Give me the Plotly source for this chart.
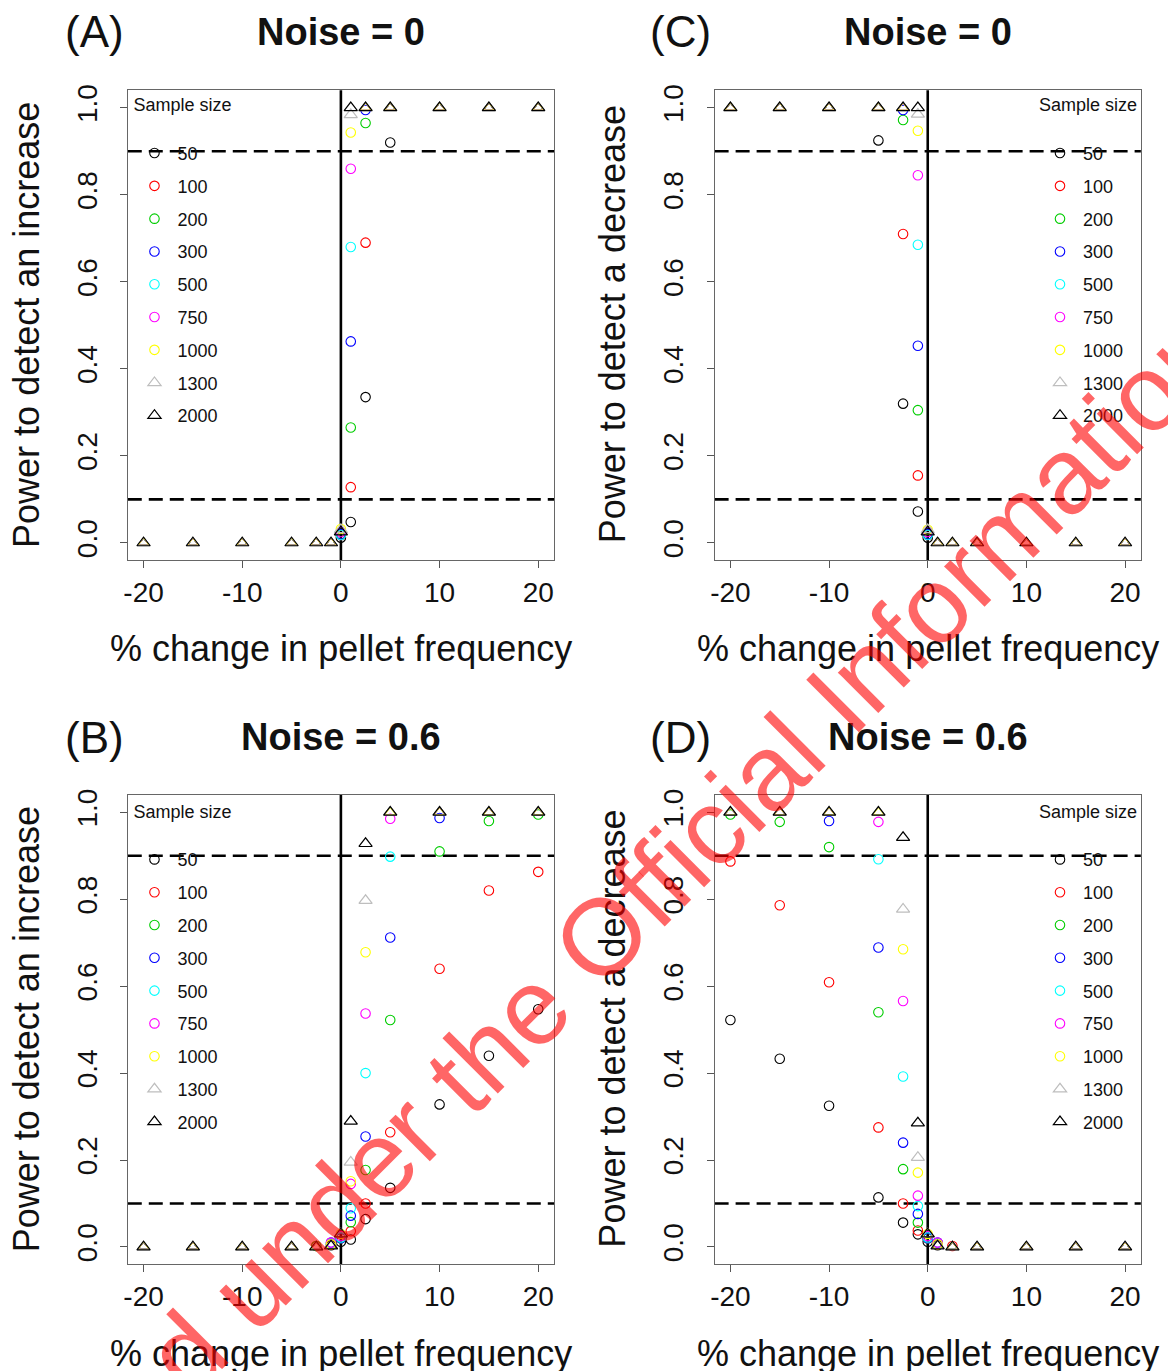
import plotly.graph_objects as go

# ---------------- data ----------------
pct_change = [-20, -15, -10, -5, -2.5, -1, 0, 1, 2.5, 5, 10, 15, 20]
sample_sizes = ["50", "100", "200", "300", "500", "750", "1000", "1300", "2000"]
series_colors = ["#000000", "#FF0000", "#00CD00", "#0000FF", "#00FFFF",
                 "#FF00FF", "#FFFF00", "#BEBEBE", "#000000"]
series_shapes = ["circle"] * 7 + ["triangle"] * 2

# (A) Noise = 0, power to detect an increase
power_inc_noise0 = [
    [0, 0, 0, 0, 0, 0, 0.012, 0.048, 0.335, 0.92, 1, 1, 1],
    [0, 0, 0, 0, 0, 0, 0.018, 0.128, 0.69, 1, 1, 1, 1],
    [0, 0, 0, 0, 0, 0, 0.02, 0.265, 0.965, 1, 1, 1, 1],
    [0, 0, 0, 0, 0, 0, 0.02, 0.463, 0.995, 1, 1, 1, 1],
    [0, 0, 0, 0, 0, 0, 0.018, 0.68, 1, 1, 1, 1, 1],
    [0, 0, 0, 0, 0, 0, 0.025, 0.86, 1, 1, 1, 1, 1],
    [0, 0, 0, 0, 0, 0, 0.032, 0.943, 1, 1, 1, 1, 1],
    [0, 0, 0, 0, 0, 0, 0.03, 0.984, 1, 1, 1, 1, 1],
    [0, 0, 0, 0, 0, 0, 0.025, 1, 1, 1, 1, 1, 1],
]
# (C) Noise = 0, power to detect a decrease
power_dec_noise0 = [
    [1, 1, 1, 0.925, 0.32, 0.072, 0.012, 0, 0, 0, 0, 0, 0],
    [1, 1, 1, 1, 0.71, 0.155, 0.018, 0, 0, 0, 0, 0, 0],
    [1, 1, 1, 1, 0.972, 0.305, 0.02, 0, 0, 0, 0, 0, 0],
    [1, 1, 1, 1, 0.995, 0.453, 0.02, 0, 0, 0, 0, 0, 0],
    [1, 1, 1, 1, 1, 0.685, 0.018, 0, 0, 0, 0, 0, 0],
    [1, 1, 1, 1, 1, 0.845, 0.025, 0, 0, 0, 0, 0, 0],
    [1, 1, 1, 1, 1, 0.947, 0.03, 0, 0, 0, 0, 0, 0],
    [1, 1, 1, 1, 1, 0.985, 0.03, 0, 0, 0, 0, 0, 0],
    [1, 1, 1, 1, 1, 1, 0.025, 0, 0, 0, 0, 0, 0],
]
# (B) Noise = 0.6, power to detect an increase
power_inc_noise06 = [
    [0, 0, 0, 0, 0, 0.004, 0.012, 0.017, 0.064, 0.136, 0.328, 0.44, 0.547],
    [0, 0, 0, 0, 0.002, 0.005, 0.02, 0.036, 0.10, 0.264, 0.64, 0.82, 0.863],
    [0, 0, 0, 0, 0.002, 0.007, 0.02, 0.057, 0.177, 0.522, 0.91, 0.98, 0.995],
    [0, 0, 0, 0, 0, 0.01, 0.02, 0.072, 0.254, 0.712, 0.987, 1, 1],
    [0, 0, 0, 0, 0, 0.008, 0.022, 0.089, 0.40, 0.898, 1, 1, 1],
    [0, 0, 0, 0, 0, 0.01, 0.025, 0.145, 0.537, 0.985, 1, 1, 1],
    [0, 0, 0, 0, 0, 0.006, 0.03, 0.151, 0.678, 1, 1, 1, 1],
    [0, 0, 0, 0, 0, 0.003, 0.03, 0.195, 0.797, 1, 1, 1, 1],
    [0, 0, 0, 0, 0, 0.002, 0.03, 0.289, 0.928, 1, 1, 1, 1],
]
# (D) Noise = 0.6, power to detect a decrease
power_dec_noise06 = [
    [0.522, 0.433, 0.325, 0.114, 0.056, 0.029, 0.012, 0.004, 0, 0, 0, 0, 0],
    [0.887, 0.786, 0.609, 0.275, 0.10, 0.038, 0.02, 0.006, 0.002, 0, 0, 0, 0],
    [0.995, 0.978, 0.92, 0.54, 0.179, 0.056, 0.02, 0.008, 0, 0, 0, 0, 0],
    [1, 1, 0.98, 0.689, 0.24, 0.076, 0.02, 0.01, 0, 0, 0, 0, 0],
    [1, 1, 1, 0.892, 0.392, 0.094, 0.022, 0.008, 0, 0, 0, 0, 0],
    [1, 1, 1, 0.978, 0.566, 0.118, 0.025, 0.01, 0, 0, 0, 0, 0],
    [1, 1, 1, 1, 0.685, 0.171, 0.03, 0.006, 0, 0, 0, 0, 0],
    [1, 1, 1, 1, 0.777, 0.206, 0.03, 0.003, 0, 0, 0, 0, 0],
    [1, 1, 1, 1, 0.942, 0.285, 0.03, 0.002, 0, 0, 0, 0, 0],
]

x_ticks = [-20, -10, 0, 10, 20]
x_tick_text = ["-20", "-10", "0", "10", "20"]
y_ticks = [0, 0.2, 0.4, 0.6, 0.8, 1.0]
y_tick_text = ["0.0", "0.2", "0.4", "0.6", "0.8", "1.0"]
threshold_lines = [0.1, 0.9]

panels = [
    ("(A)", "Noise = 0", power_inc_noise0, "Power to detect an increase", "", "legend", "left"),
    ("(C)", "Noise = 0", power_dec_noise0, "Power to detect a decrease", "2", "legend2", "right"),
    ("(B)", "Noise = 0.6", power_inc_noise06, "Power to detect an increase", "3", "legend3", "left"),
    ("(D)", "Noise = 0.6", power_dec_noise06, "Power to detect a decrease", "4", "legend4", "right"),
]

W, H = 1168, 1371
FONT = "Liberation Sans, Arial, sans-serif"
TXT = "#111111"
# page-pixel -> figure-pixel compensation (observed offset/scale of the snapshot)
SX, CX = 0.996, 4.6
SY, CY = 0.9937, 7.1

def px_x(p):
    return ((p - CX) / SX) / W

def px_y(p):
    return 1 - ((p - CY) / SY) / H

x_domains = {"left": [px_x(128.3), px_x(554.3)], "right": [px_x(714.8), px_x(1140.8)]}
y_domains = {"top": [px_y(560.3), px_y(91.3)], "bottom": [px_y(1263), px_y(794.5)]}
panel_pos = [("left", "top"), ("right", "top"), ("left", "bottom"), ("right", "bottom")]

fig = go.Figure()
layout = dict(
    width=W, height=H, margin=dict(l=0, r=0, t=0, b=0),
    paper_bgcolor="white", plot_bgcolor="white",
    font=dict(family=FONT, color=TXT),
    showlegend=True,
)
shapes = []
annotations = []

for pi, (letter, noise_title, data, ylab, sfx, leg, side) in enumerate(panels):
    col, row = panel_pos[pi]
    xa, ya = "x" + sfx, "y" + sfx
    xdom, ydom = x_domains[col], y_domains[row]

    layout["xaxis" + sfx] = dict(
        domain=xdom, anchor=ya, range=[-21.6, 21.6], tickvals=x_ticks, ticktext=x_tick_text,
        ticks="outside", ticklen=7, tickwidth=1, tickcolor="#555555",
        showline=True, linecolor="#666666", linewidth=1, mirror=True,
        showgrid=False, zeroline=False,
        tickfont=dict(size=28, family=FONT, color=TXT),
        ticklabelstandoff=0,
    )
    layout["yaxis" + sfx] = dict(
        domain=ydom, anchor=xa, range=[-0.04, 1.04], tickvals=y_ticks,
        ticktext=y_tick_text, tickangle=-90,
        ticks="outside", ticklen=7, tickwidth=1, tickcolor="#555555",
        showline=True, linecolor="#666666", linewidth=1, mirror=True,
        showgrid=False, zeroline=False,
        tickfont=dict(size=28, family=FONT, color=TXT),
        ticklabelstandoff=12,
    )

    # reference lines
    shapes.append(dict(type="line", xref=xa, yref=ya + " domain", x0=0, x1=0, y0=0, y1=1,
                       line=dict(color="black", width=2.6), layer="below"))
    for t in threshold_lines:
        shapes.append(dict(type="line", xref=xa + " domain", yref=ya, x0=0, x1=1, y0=t, y1=t,
                           line=dict(color="black", width=2.6, dash="14px,7px"), layer="below"))

    # series
    for si, size in enumerate(sample_sizes):
        vals = data[si]
        color = series_colors[si]
        grp = f"{leg}_{size}"
        if series_shapes[si] == "circle":
            cx = [x for x, v in zip(pct_change, vals) if 0 < v < 1]
            cy = [v for v in vals if 0 < v < 1]
            sx = [x for x, v in zip(pct_change, vals) if v <= 0 or v >= 1]
            sy = [v for v in vals if v <= 0 or v >= 1]
            fig.add_trace(go.Scatter(
                x=sx, y=sy, xaxis=xa, yaxis=ya, mode="markers", legend=leg,
                legendgroup=grp, showlegend=False, hoverinfo="skip",
                marker=dict(symbol="triangle-up-open", size=9.2, color=color,
                            line=dict(color=color, width=1.0)),
            ))
            fig.add_trace(go.Scatter(
                x=cx, y=cy, xaxis=xa, yaxis=ya, mode="markers", name=size,
                legend=leg, legendgroup=grp,
                marker=dict(symbol="circle-open", size=9.5, color=color,
                            line=dict(color=color, width=1.1)),
            ))
        else:
            fig.add_trace(go.Scatter(
                x=pct_change, y=vals, xaxis=xa, yaxis=ya, mode="markers", name=size,
                legend=leg, legendgroup=grp,
                marker=dict(symbol="triangle-up-open", size=11.5, color=color,
                            line=dict(color=color, width=1.2)),
            ))

    # legend
    lx_px = 132 if side == "left" else 1037
    top_px = 89 if row == "top" else 794
    layout[leg] = dict(
        x=px_x(lx_px), y=px_y(top_px), xanchor="left", yanchor="top",
        bgcolor="rgba(0,0,0,0)", borderwidth=0, itemwidth=36,
        font=dict(size=18, family=FONT, color=TXT),
        title=dict(text="Sample size<br> ", font=dict(size=18, family=FONT, color=TXT)),
        tracegroupgap=6.4, itemclick=False, itemdoubleclick=False,
    )

    # titles
    cx_px = 341 if col == "left" else 928
    lt_px = 95 if col == "left" else 681
    ty_px = 33 if row == "top" else 737
    annotations.append(dict(text=letter, x=px_x(lt_px), y=px_y(ty_px), xref="paper", yref="paper",
                            showarrow=False, xanchor="center", yanchor="middle",
                            font=dict(size=44, family=FONT, color=TXT)))
    annotations.append(dict(text="<b>" + noise_title + "</b>", x=px_x(cx_px), y=px_y(ty_px),
                            xref="paper", yref="paper", showarrow=False,
                            xanchor="center", yanchor="middle",
                            font=dict(size=38, family=FONT, color=TXT)))
    # axis titles
    xt_px = 648 if row == "top" else 1352
    annotations.append(dict(text="% change in pellet frequency", x=px_x(cx_px), y=px_y(xt_px),
                            xref="paper", yref="paper", showarrow=False,
                            xanchor="center", yanchor="middle",
                            font=dict(size=36, family=FONT, color=TXT)))
    yl_x = 27 if col == "left" else 613
    yl_y = 325 if row == "top" else 1028
    annotations.append(dict(text=ylab, x=px_x(yl_x), y=px_y(yl_y), xref="paper", yref="paper",
                            showarrow=False, xanchor="center", yanchor="middle", textangle=-90,
                            font=dict(size=36, family=FONT, color=TXT)))

# watermark
annotations.append(dict(text="Released under the Official Information Act",
                        x=px_x(610), y=px_y(928), xref="paper", yref="paper",
                        showarrow=False, xanchor="center", yanchor="middle", textangle=-45,
                        font=dict(size=108, family=FONT, color="rgba(255,0,0,0.6)")))

layout["shapes"] = shapes
layout["annotations"] = annotations
fig.update_layout(**layout)
fig.write_html("out.html", post_script="document.body.style.margin='0px';")
